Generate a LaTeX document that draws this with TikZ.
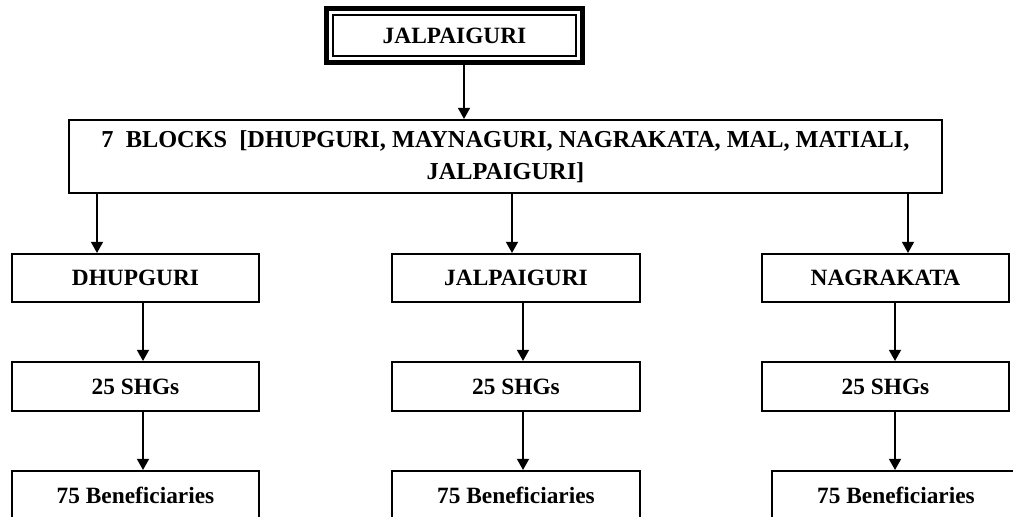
\documentclass[tikz,border=0pt]{standalone}
\usepackage{fontspec}
\setmainfont{Liberation Serif}
\usetikzlibrary{arrows.meta}
\tikzset{
  box/.style={draw, line width=1.4pt, font=\fontsize{16.6}{22.8}\selectfont\bfseries, inner sep=0pt, minimum height=1.2cm, minimum width=6.175cm},
  link/.style={line width=1.5pt, -{Triangle[length=8pt, width=8.5pt]}},
}
\begin{document}
\begin{tikzpicture}[x=0.025cm, y=-0.025cm]
\clip (0,0) rectangle (1013,516);
\node[box, minimum width=6.075cm, minimum height=1.025cm, line width=1pt] (P_0_0) at (454.5,35.5) {JALPAIGURI};
\draw[line width=3.5pt] ([shift={(-0.1375cm,0.1375cm)}]P_0_0.north west) rectangle ([shift={(0.1375cm,-0.1375cm)}]P_0_0.south east);
\node[box, minimum width=21.825cm, minimum height=1.825cm, align=center, font=\fontsize{17.3}{22.8}\selectfont\bfseries] (P_1_0) at (505.5,156.5) {7\ \ BLOCKS\ \ [DHUPGURI, MAYNAGURI, NAGRAKATA, MAL, MATIALI,\\ JALPAIGURI]};
\draw[link] ([xshift=0.2375cm, yshift=-0.2cm]P_0_0.south) -- ([xshift=0.2375cm]P_0_0.south |- P_1_0.north);
\node[box] (P_2_0) at (135.5,278) {DHUPGURI};
\draw[link] ([xshift=-0.9625cm]P_2_0.north |- P_1_0.south) -- ([xshift=-0.9625cm]P_2_0.north);
\node[box] (P_2_1) at (516,278) {JALPAIGURI};
\draw[link] ([xshift=-0.1cm]P_2_1.north |- P_1_0.south) -- ([xshift=-0.1cm]P_2_1.north);
\node[box] (P_2_2) at (885.5,278) {NAGRAKATA};
\draw[link] ([xshift=0.5625cm]P_2_2.north |- P_1_0.south) -- ([xshift=0.5625cm]P_2_2.north);
\node[box, minimum height=1.225cm] (P_3_0) at (135.5,386.5) {25 SHGs};
\draw[link] ([xshift=0.1875cm]P_2_0.south) -- ([xshift=0.1875cm]P_2_0.south |- P_3_0.north);
\node[box, minimum height=1.225cm] (P_3_1) at (516,386.5) {25 SHGs};
\draw[link] ([xshift=0.175cm]P_2_1.south) -- ([xshift=0.175cm]P_2_1.south |- P_3_1.north);
\node[box, minimum height=1.225cm] (P_3_2) at (885.5,386.5) {25 SHGs};
\draw[link] ([xshift=0.2375cm]P_2_2.south) -- ([xshift=0.2375cm]P_2_2.south |- P_3_2.north);
\node[box, minimum height=1.225cm] (P_4_0) at (135.5,495.5) {75 Beneficiaries};
\draw[link] ([xshift=0.1875cm]P_3_0.south) -- ([xshift=0.1875cm]P_3_0.south |- P_4_0.north);
\node[box, minimum height=1.225cm] (P_4_1) at (516,495.5) {75 Beneficiaries};
\draw[link] ([xshift=0.175cm]P_3_1.south) -- ([xshift=0.175cm]P_3_1.south |- P_4_1.north);
\node[box, minimum height=1.225cm] (P_4_2) at (896,495.5) {75 Beneficiaries};
\draw[link] ([xshift=0.2375cm]P_3_2.south) -- ([xshift=0.2375cm]P_3_2.south |- P_4_2.north);
\end{tikzpicture}
\end{document}
